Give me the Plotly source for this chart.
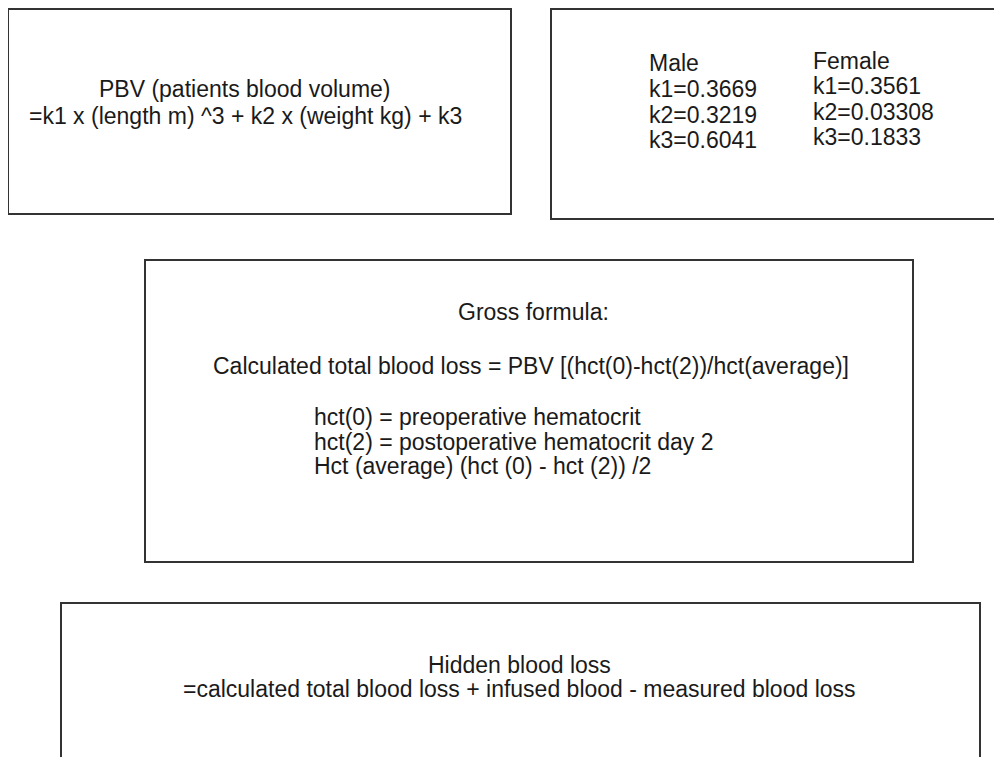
import plotly.graph_objects as go

# ---- content ----
pbv_lines = ["PBV (patients blood volume)", "=k1 x (length m) ^3 + k2 x (weight kg) + k3"]
male_lines = ["Male", "k1=0.3669", "k2=0.3219", "k3=0.6041"]
female_lines = ["Female", "k1=0.3561", "k2=0.03308", "k3=0.1833"]
gross_title = "Gross formula:"
gross_formula = "Calculated total blood loss = PBV [(hct(0)-hct(2))/hct(average)]"
hct_lines = ["hct(0) = preoperative hematocrit",
             "hct(2) = postoperative hematocrit day 2",
             "Hct (average) (hct (0) - hct (2)) /2"]
hidden_lines = ["Hidden blood loss",
                "=calculated total blood loss + infused blood - measured blood loss"]

W, H = 1002, 757
OFF = 8  # page body margin
FONT = "Liberation Sans, Arial, sans-serif"
FS = 23
TXT = "#1a1a1a"
LINE = "#333333"

fig = go.Figure()
fig.add_trace(go.Scatter(x=[OFF, W], y=[OFF, H], mode="markers",
                         marker=dict(opacity=0), hoverinfo="skip", showlegend=False))

boxes = [(8, 9, 511, 214), (551, 9, 1010, 219), (145, 260, 913, 562), (61, 603, 980, 780)]
for x0, y0, x1, y1 in boxes:
    fig.add_shape(type="rect", x0=x0, y0=y0, x1=x1, y1=y1,
                  line=dict(color=LINE, width=2), fillcolor="rgba(0,0,0,0)")

def txt(s, x, y, xanchor="center"):
    fig.add_annotation(x=x, y=y, text=s, showarrow=False, xanchor=xanchor,
                       yanchor="middle", font=dict(family=FONT, size=FS, color=TXT))

# box 1
for s, y in zip(pbv_lines, [89, 116]):
    txt(s, 245, y)
# box 2
for s, y in zip(male_lines, [63, 89, 115, 140]):
    txt(s, 647, y, "left")
for s, y in zip(female_lines, [61, 86, 112, 137]):
    txt(s, 811, y, "left")
# box 3
txt(gross_title, 533, 312)
txt(gross_formula, 531, 366)
for s, y in zip(hct_lines, [417, 442, 466]):
    txt(s, 312, y, "left")
# box 4
for s, y in zip(hidden_lines, [665, 689]):
    txt(s, 519, y)

fig.update_xaxes(range=[OFF, W], visible=False, fixedrange=True)
fig.update_yaxes(range=[H, OFF], visible=False, fixedrange=True)
fig.update_layout(width=W - OFF, height=H - OFF, margin=dict(l=0, r=0, t=0, b=0),
                  paper_bgcolor="white", plot_bgcolor="white", showlegend=False)
fig.write_html("out.html")
